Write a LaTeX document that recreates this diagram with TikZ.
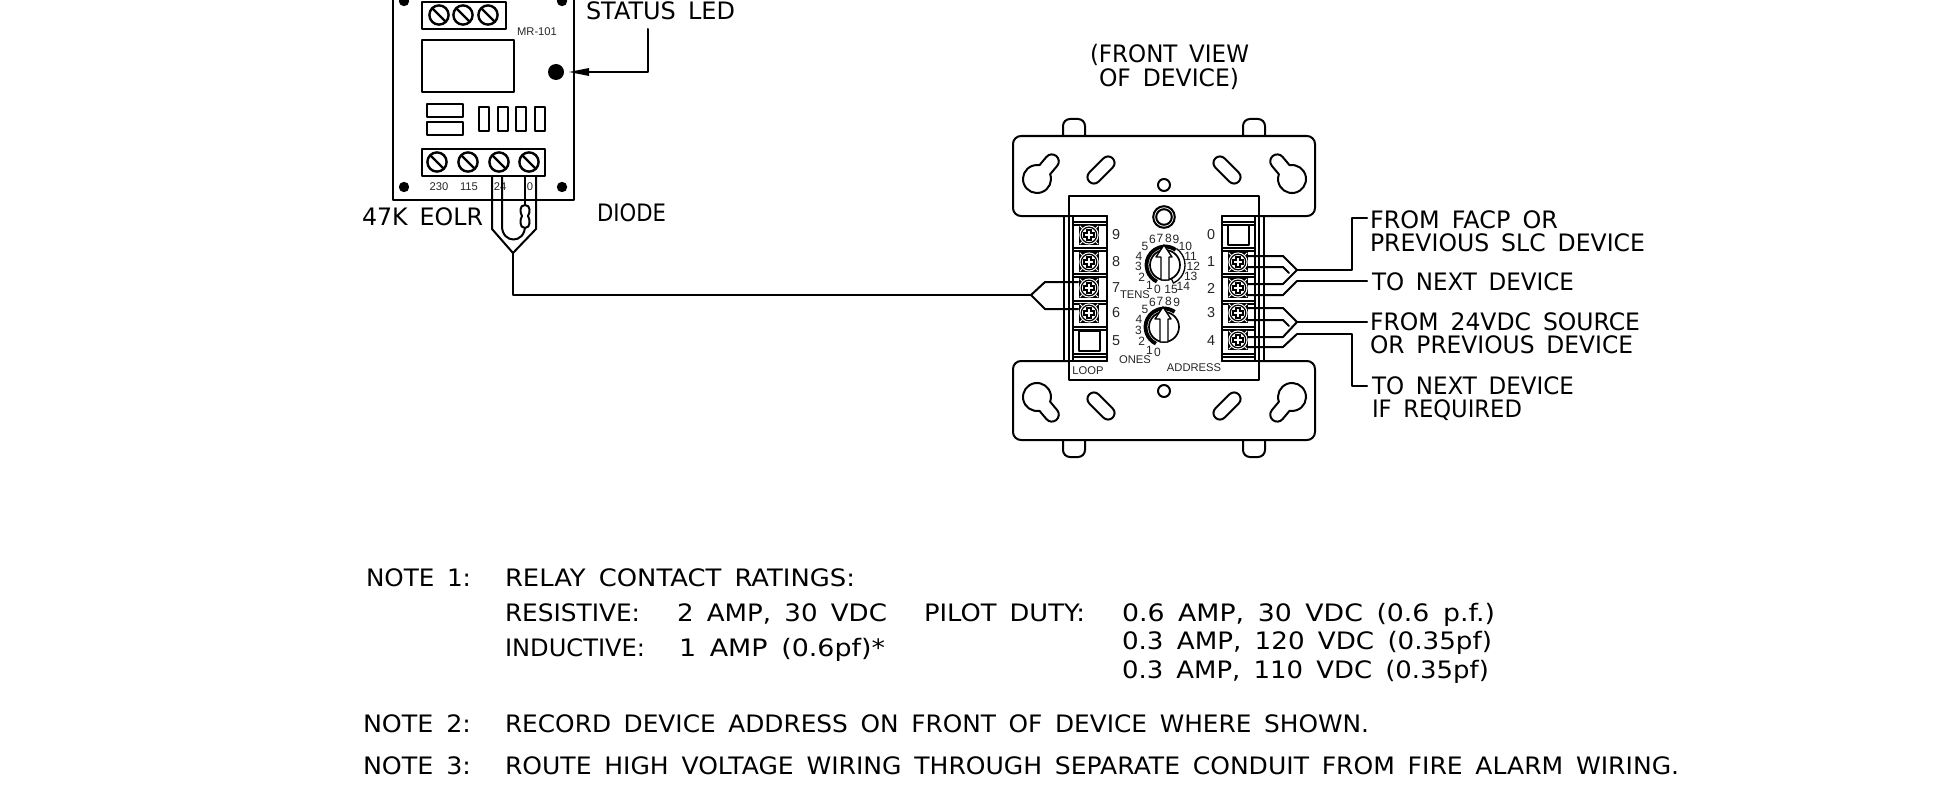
\documentclass[tikz,border=0pt]{standalone}
\usepackage{fontspec}
\usepackage{graphicx}
\setmainfont{DejaVu Sans}[WordSpace=1.6]
\newfontfamily\arial{Liberation Sans}
\usetikzlibrary{arrows.meta}
\tikzset{
  ln/.style={line width=1pt,line cap=round,line join=round},
  thin ln/.style={line width=.65pt,line join=round},
  cad/.style={inner sep=0pt,outer sep=0pt,anchor=base west,font=\fontsize{12}{14}\selectfont},
  lab/.style={inner sep=0pt,outer sep=0pt,font=\arial\fontsize{5.6}{6}\selectfont,text=black!85},
  dig/.style={inner sep=0pt,outer sep=0pt,font=\arial\fontsize{7.2}{8}\selectfont,text=black!85},
  mini/.style={inner sep=0pt,outer sep=0pt,font=\arial\fontsize{5.6}{6}\selectfont,text=black!85},
  dialnum/.style={inner sep=0pt,outer sep=0pt,font=\arial\fontsize{6}{6}\selectfont,text=black!85},
}
% text fitted to a width in reference pixels
\newcommand\ct[5]{\node[cad] (#1) at (#2,#3+8.5) {\resizebox{\dimexpr #4pt/2\relax}{\height}{#5}};}
\newcommand\keyhole[3]{\begin{scope}[shift={(#1,#2)},rotate=#3]
  \draw[ln] (12.1,7) arc[start angle=30,end angle=330,radius=7pt] -- (23,-7) arc[start angle=-90,end angle=90,radius=3.5pt] -- cycle;
\end{scope}}
\newcommand\slot[3]{\begin{scope}[shift={(#1,#2)},rotate=#3]
  \draw[ln] (-10,6.5) arc[start angle=90,end angle=270,radius=3.25pt] -- (10,-6.5) arc[start angle=-90,end angle=90,radius=3.25pt] -- cycle;
\end{scope}}
\newcommand\bscrew[2]{\begin{scope}[shift={(#1,#2)}]
  \fill[black] (-10,-10) rectangle (10,10);
  \fill[white] (0,0) circle[radius=4.8pt];
  \draw[line width=.6pt] (0,0) circle[radius=3.9pt];
  \fill[black] (-6,-3.2) rectangle (6,3.2);
  \fill[black] (-3.2,-6) rectangle (3.2,6);
  \fill[white] (-4.4,-1.3) rectangle (4.4,1.3);
  \fill[white] (-1.3,-4.4) rectangle (1.3,4.4);
  \foreach \a in {45,135,225,315}{\draw[white,line width=.5pt] (\a:9) -- (\a:13);}
\end{scope}}
\newcommand\sscrew[2]{\begin{scope}[shift={(#1,#2)}]
  \draw[line width=1.2pt] (0,0) circle[radius=4.8pt];
  \draw[line width=1.2pt] (-6.8,-6.8) -- (6.8,6.8);
\end{scope}}
% centre x, centre y
\newcommand\dial[2]{\begin{scope}[shift={(#1,#2)}]
  \draw[line width=.85pt] (0,0) circle[radius=7.5pt];
  \draw[line width=1.9pt] (116:18.5) arc[start angle=116,end angle=305,radius=9.25pt];
  \draw[thin ln,fill=white] (-1,-20) -- (-9,-8) -- (-4,-8) -- (-4,15) -- (4,15) -- (4,-8) -- (7,-8) -- cycle;
\end{scope}}
\begin{document}
\begin{tikzpicture}[x=.5pt,y=.5pt,yscale=-1]
\useasboundingbox (0,0) rectangle (1937,792);
% ---- MR-101 relay
\draw[ln] (393,-10) -- (393,200) -- (574,200) -- (574,-10);
\draw[ln] (422,2.5) rectangle (506,29);
\foreach \x in {439,463,488}{\sscrew{\x}{15}}
\fill (404,1) circle[radius=2.6pt];
\fill (562,1) circle[radius=2.6pt];
\draw[ln] (422,40) rectangle (514,92);
\fill (556,72) coordinate (led) circle[radius=4pt];
\draw[ln] (427,104) rectangle (463,117);
\draw[ln] (427,122) rectangle (463,135);
\foreach \x in {479,498,516,535}{\draw[ln] (\x,107) rectangle ++(10,24);}
\draw[ln] (422,149) rectangle (545,176);
\foreach \x in {437,468,499,529}{\sscrew{\x}{162}}
\fill (404,187) circle[radius=2.6pt];
\fill (562,187) circle[radius=2.6pt];
\node[mini] (n230) at (439,187) {230};
\node[mini] (n115) at (469,187) {115};
\node[mini] (n24) at (500,187) {24};
\node[mini] (n0) at (530,187) {0};
\node[mini] (mr) at (537,32) {MR-101};
% status led pointer
\coordinate (a1) at (648,29);
\coordinate (a2) at (648,72);
\coordinate (a3) at (569,72);
\draw[ln] (a1) -- (a2) -- (589,72);
\fill (a3) -- (589,68) -- (589,76) -- cycle;
% ---- EOLR wiring
\coordinate (w1) at (492,176);
\coordinate (w2) at (492,229);
\coordinate (wt) at (513,253);
\coordinate (w3) at (536,229);
\coordinate (w4) at (536,176);
\coordinate (wb) at (513,295);
\coordinate (lt) at (1031,295);
\draw[ln] (w1) -- (w2) -- (wt) -- (w3) -- (w4);
\draw[ln] (wt) -- (wb) -- (lt);
\draw[ln] (502,176) -- (502,226) .. controls (502,244) and (525,244) .. (525,226);
\draw[ln] (525,176) -- (525,205);
\draw[ln,fill=white] (525,205) .. controls (519,205) and (520,213) .. (522,216) .. controls (520,219) and (519,228) .. (525,228) .. controls (531,228) and (530,219) .. (528,216) .. controls (530,213) and (531,205) .. (525,205) -- cycle;
% ---- device plates
\foreach \x in {1063,1243}{
  \draw[ln,rounded corners=3.5pt] (\x,136) -- (\x,119) -- (\x+22,119) -- (\x+22,136);
  \draw[ln,rounded corners=3.5pt] (\x,440) -- (\x,457) -- (\x+22,457) -- (\x+22,440);
}
\draw[ln,fill=white,rounded corners=4pt] (1013,136) rectangle (1315,216);
\draw[ln,fill=white,rounded corners=4pt] (1013,361) rectangle (1315,440);
\keyhole{1037}{179}{-50}
\keyhole{1292}{179}{-130}
\keyhole{1037}{397}{50}
\keyhole{1292}{397}{130}
\slot{1101}{170}{-45}
\slot{1227}{170}{45}
\slot{1101}{406}{45}
\slot{1227}{406}{-45}
\draw[ln] (1164,185) circle[radius=3pt];
\draw[ln] (1164,391) circle[radius=3pt];
% ---- device body
\draw[ln,fill=white] (1069,196) rectangle (1259,380);
\draw[ln] (1164,217) circle[radius=5.4pt];
\draw[ln] (1164,217) circle[radius=3.9pt];
\foreach \x in {1064,1073,1107,1222,1255,1264}{\draw[ln] (\x,216) -- (\x,361);}
\draw[ln] (1064,216) -- (1107,216);
\draw[ln] (1222,216) -- (1264,216);
\draw[ln] (1064,361) -- (1107,361);
\draw[ln] (1222,361) -- (1264,361);
\foreach \y in {222,248,274,301,327,354}{
  \draw[ln] (1073,\y) -- (1107,\y);
  \draw[ln] (1222,\y) -- (1255,\y);
  \draw[ln] (1073,\y+3) -- (1107,\y+3);
  \draw[ln] (1222,\y+3) -- (1255,\y+3);
}
\foreach \y in {235,262,288,313}{\bscrew{1089}{\y}}
\foreach \y in {262,288,313,340}{\bscrew{1238}{\y}}
\draw[ln] (1079,331) rectangle (1100,351);
\draw[ln] (1228,225) rectangle (1249,245);
% ---- digits
\foreach \t/\y in {9/235,8/262,7/288,6/313,5/341}{\node[dig] (l\t) at (1116,\y) {\t};}
\foreach \t/\y in {0/235,1/262,2/288,3/313,4/341}{\node[dig] (r\t) at (1211,\y) {\t};}
% ---- dials
\draw[thin ln] (1165,265) ++(-55:20) arc[start angle=-55,end angle=65,radius=10pt] -- ++(245:5);
\dial{1165}{265}
\dial{1164}{327}
\foreach \t/\x/\y in {5/435/409,6/457/388,7/480/385,8/505/385,9/528/388,10/556/408,11/572/438,12/580/468,13/572/498,14/550/528,15/513/537,0/472/537,1/448/527,2/425/502,3/415/470,4/417/440}{
  \node[dialnum] (tt\t) at (1000+\x/3,110+\y/3) {\t};}
\foreach \t/\x/\y in {5/435/207,6/457/188,7/480/183,8/505/183,9/530/188,4/417/237,3/415/270,2/425/303,1/448/330,0/472/337}{
  \node[dialnum] (oo\t) at (1000+\x/3,240+\y/3) {\t};}
\node[lab] (tens) at (1135,295) {TENS};
\node[lab] (ones) at (1135,360) {ONES};
\node[lab] (loop) at (1088,371) {LOOP};
\node[lab] (addr) at (1194,368) {ADDRESS};
% ---- wires on the device
\coordinate (lw1) at (1078,282); \coordinate (lw2) at (1078,309);
\draw[ln] (lw1) -- (1045,282) -- (lt) -- (1045,309) -- (lw2);
\coordinate (t1) at (1297,270); \coordinate (t2) at (1297,281);
\coordinate (t3) at (1297,322); \coordinate (t4) at (1297,334);
\draw[ln] (1248,267) -- (1283,267) -- (1289,273);
\draw[ln] (1248,295) -- (1283,295) -- (t2);
\draw[ln] (1248,256) -- (1283,256) -- (t1) -- (1283,284) -- (1248,284);
\draw[ln] (1248,320) -- (1283,320) -- (1289,326);
\draw[ln] (1248,347) -- (1283,347) -- (t4);
\draw[ln] (1248,308) -- (1283,308) -- (t3) -- (1283,337) -- (1248,337);
\coordinate (f1) at (1367,218); \coordinate (f2) at (1367,281);
\coordinate (f3) at (1367,322); \coordinate (f4) at (1367,386);
\draw[ln] (t1) -- (1352,270) -- (1352,218) -- (f1);
\draw[ln] (t2) -- (f2);
\draw[ln] (t3) -- (f3);
\draw[ln] (t4) -- (1352,334) -- (1352,386) -- (f4);
% ---- CAD text
\ct{s1}{586}{11}{149}{STATUS LED}
\ct{s2}{362}{217}{121}{47K EOLR}
\ct{s3}{597}{213}{69}{DIODE}
\ct{s4}{1090}{54}{159}{(FRONT VIEW}
\ct{s5}{1099}{78}{140}{OF DEVICE)}
\ct{s6}{1370}{220}{188}{FROM FACP OR}
\ct{s7}{1370}{243}{275}{PREVIOUS SLC DEVICE}
\ct{s8}{1372}{282}{202}{TO NEXT DEVICE}
\ct{s9}{1370}{322}{270}{FROM 24VDC SOURCE}
\ct{s10}{1370}{345}{263}{OR PREVIOUS DEVICE}
\ct{s11}{1372}{386}{202}{TO NEXT DEVICE}
\ct{s12}{1372}{409}{150}{IF REQUIRED}
\ct{n1}{366}{578}{105}{NOTE 1:}
\ct{n2}{505}{578}{350}{RELAY CONTACT RATINGS:}
\ct{n3}{505}{613}{135}{RESISTIVE:}
\ct{n4}{677}{613}{210}{2 AMP, 30 VDC}
\ct{n5}{924}{613}{161}{PILOT DUTY:}
\ct{n6}{1122}{613}{373}{0.6 AMP, 30 VDC (0.6 p.f.)}
\ct{n7}{505}{648}{140}{INDUCTIVE:}
\ct{n8}{679}{648}{206}{1 AMP (0.6pf)*}
\ct{n9}{1122}{641}{370}{0.3 AMP, 120 VDC (0.35pf)}
\ct{n10}{1122}{670}{367}{0.3 AMP, 110 VDC (0.35pf)}
\ct{n11}{363}{724}{108}{NOTE 2:}
\ct{n12}{505}{724}{864}{RECORD DEVICE ADDRESS ON FRONT OF DEVICE WHERE SHOWN.}
\ct{n13}{363}{766}{108}{NOTE 3:}
\ct{n14}{505}{766}{1174}{ROUTE HIGH VOLTAGE WIRING THROUGH SEPARATE CONDUIT FROM FIRE ALARM WIRING.}
\end{tikzpicture}
\end{document}
